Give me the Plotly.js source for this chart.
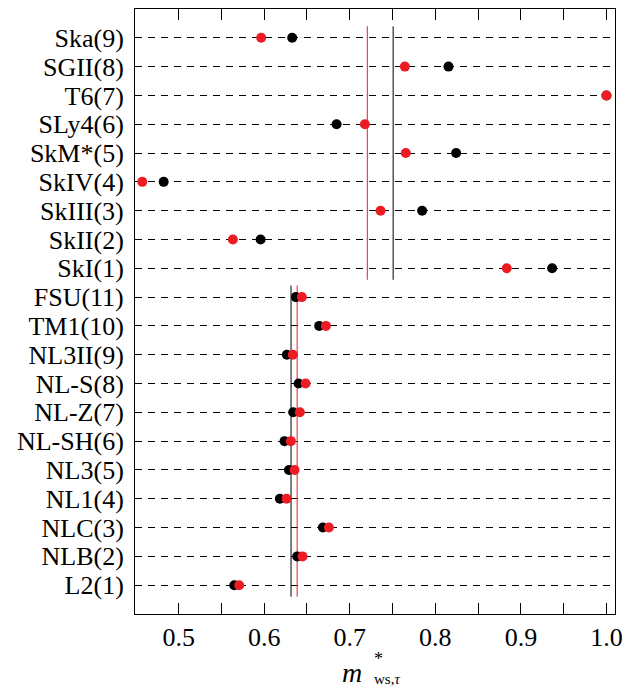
<!DOCTYPE html>
<html>
<head>
<meta charset="utf-8">
<script src="https://cdn.plot.ly/plotly-3.0.1.min.js"></script>
<style>html,body{margin:0;padding:0;background:#fff}#chart{width:623px;height:688px}</style>
</head>
<body>
<div id="chart"></div>
<script>
// Models, top to bottom
const skyrmeModels = ['Ska(9)','SGII(8)','T6(7)','SLy4(6)','SkM*(5)','SkIV(4)','SkIII(3)','SkII(2)','SkI(1)'];
const rmfModels = ['FSU(11)','TM1(10)','NL3II(9)','NL-S(8)','NL-Z(7)','NL-SH(6)','NL3(5)','NL1(4)','NLC(3)','NLB(2)','L2(1)'];

// Black series values
const skyrmeBlack = [0.6327, 0.8154, 1.0000, 0.6846, 0.8243, 0.4825, 0.7846, 0.5958, 0.9365];
const rmfBlack    = [0.6370, 0.6643, 0.6265, 0.6402, 0.6339, 0.6238, 0.6289, 0.6183, 0.6686, 0.6386, 0.5650];
// Red series values
const skyrmeRed = [0.5965, 0.7644, 1.0000, 0.7177, 0.7655, 0.4575, 0.7360, 0.5634, 0.8835];
const rmfRed    = [0.6440, 0.6721, 0.6335, 0.6484, 0.6417, 0.6312, 0.6355, 0.6261, 0.6756, 0.6448, 0.5708];

// x tick values / labels
const xTickVals = [0.45,0.5,0.55,0.6,0.65,0.7,0.75,0.8,0.85,0.9,0.95,1.0];
const xTickText = ['','0.5','','0.6','','0.7','','0.8','','0.9','','1.0'];

const models = skyrmeModels.concat(rmfModels);
const blackVals = skyrmeBlack.concat(rmfBlack);
const redVals = skyrmeRed.concat(rmfRed);
const n = models.length;
const yPos = models.map((m, i) => n - 1 - i);

const mean = a => a.reduce((s, v) => s + v, 0) / a.length;
const RED = 'rgb(237,28,36)';

const skyTop = n - 1, skyBot = n - skyrmeModels.length;
const rmfTop = rmfModels.length - 1, rmfBot = 0;

function vline(x, yTop, yBot, color) {
  return {x: [x, x], y: [yTop + 0.4, yBot - 0.4], mode: 'lines', type: 'scatter',
          line: {color: color, width: 1}, hoverinfo: 'skip', showlegend: false};
}

const traces = [
  vline(mean(skyrmeRed), skyTop, skyBot, RED),
  vline(mean(skyrmeBlack), skyTop, skyBot, '#000'),
  vline(mean(rmfBlack), rmfTop, rmfBot, '#000'),
  vline(mean(rmfRed), rmfTop, rmfBot, RED),
  {x: blackVals, y: yPos, mode: 'markers', type: 'scatter', cliponaxis: false,
   marker: {color: '#000', size: 10}, showlegend: false},
  {x: redVals, y: yPos, mode: 'markers', type: 'scatter', cliponaxis: false,
   marker: {color: RED, size: 10}, showlegend: false}
];

const FONT = 'Liberation Serif';

const layout = {
  width: 623, height: 688,
  margin: {l: 135, r: 8, t: 9, b: 74},
  paper_bgcolor: '#fff', plot_bgcolor: '#fff',
  font: {family: FONT, size: 26, color: '#000'},
  showlegend: false,
  xaxis: {
    range: [0.449, 1.010], tickmode: 'array', tickvals: xTickVals, ticktext: xTickText,
    ticks: 'inside', ticklen: 11, tickwidth: 1, tickcolor: '#000',
    showline: true, linecolor: '#000', linewidth: 1, mirror: 'allticks',
    showgrid: false, zeroline: false, tickfont: {family: FONT, size: 26},
    ticklabeloverflow: 'allow'
  },
  yaxis: {
    range: [-1, n], tickmode: 'array', tickvals: yPos, ticktext: models,
    ticks: '', ticklabelstandoff: 5, showline: true, linecolor: '#000', linewidth: 1, mirror: true,
    showgrid: true, gridcolor: '#000', gridwidth: 1, griddash: '7px,6px',
    zeroline: false, tickfont: {family: FONT, size: 26}
  },
  annotations: [
    {text: '<i>m</i>', xref: 'paper', yref: 'paper', x: 0.452, y: 0, xanchor: 'center', yanchor: 'middle',
     yshift: -58, showarrow: false, font: {family: FONT, size: 28}},
    {text: '*', xref: 'paper', yref: 'paper', x: 0.493, y: 0, xanchor: 'left', yanchor: 'middle',
     yshift: -45, showarrow: false, font: {family: FONT, size: 18}},
    {text: 'ws,<i>τ</i>', xref: 'paper', yref: 'paper', x: 0.493, y: 0, xanchor: 'left', yanchor: 'middle',
     yshift: -65, showarrow: false, font: {family: FONT, size: 15}}
  ]
};

Plotly.newPlot('chart', traces, layout, {displayModeBar: false, staticPlot: true});
</script>
</body>
</html>
